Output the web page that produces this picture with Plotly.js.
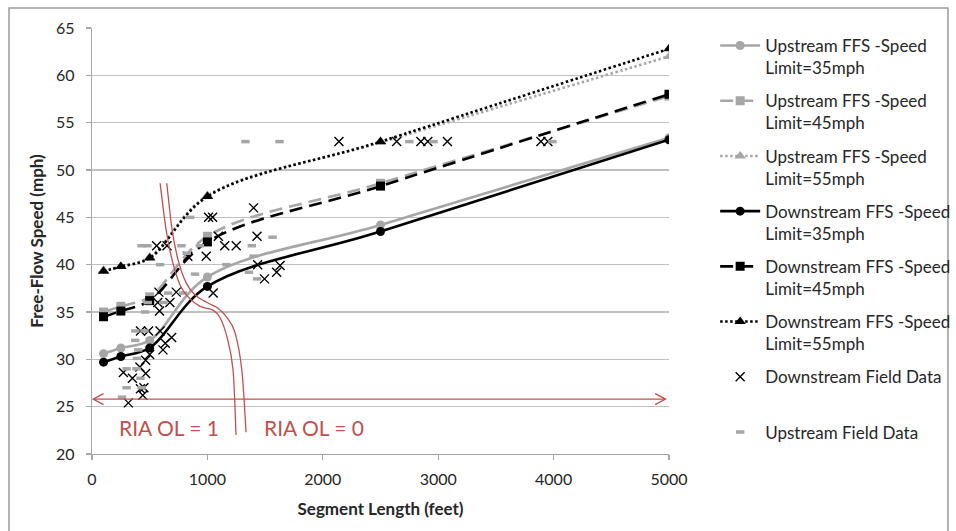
<!DOCTYPE html>
<html>
<head>
<meta charset="utf-8">
<script src="https://cdn.plot.ly/plotly-3.0.1.min.js"></script>
<style>
  html, body { margin: 0; padding: 0; background: #ffffff; }
  #chart { width: 956px; height: 531px; }
</style>
</head>
<body>
<div id="chart"></div>
<script>
// ---- Model curves (segment length in feet, FFS in mph) ----
const segLen = [100, 250, 500, 1000, 2500, 5000];
const usFFS35 = [30.6, 31.2, 32.0, 38.7, 44.2, 53.4];
const usFFS45 = [35.0, 35.6, 36.6, 43.0, 48.6, 57.8];
const usFFS55 = [39.4, 39.8, 40.8, 47.3, 52.9, 62.0];
const dsFFS35 = [29.7, 30.3, 31.2, 37.7, 43.5, 53.2];
const dsFFS45 = [34.5, 35.1, 36.2, 42.4, 48.3, 58.0];
const dsFFS55 = [39.3, 39.8, 40.7, 47.2, 53.0, 62.8];

// ---- Field data ----
const dsFieldLen = [2140, 2640, 2850, 2910, 3080, 3890, 3950,
  1400, 1010, 1045, 1095, 1430, 560, 650, 1150, 1250, 830, 990,
  1435, 1630, 1600, 1495, 1050, 580, 730, 570, 675, 585,
  590, 420, 490, 615, 635, 690,
  315, 272, 350, 415, 465, 465, 500, 440, 420, 450];
const dsFieldFFS = [53.0, 53.0, 53.0, 53.0, 53.0, 53.0, 53.0,
  46.0, 45.0, 45.0, 43.0, 43.0, 42.0, 42.0, 42.0, 42.0, 40.9, 40.9,
  40.0, 39.9, 39.2, 38.5, 37.0, 37.1, 37.1, 36.0, 36.0, 35.1,
  33.0, 33.0, 33.0, 31.0, 31.7, 32.3,
  25.4, 28.6, 28.0, 29.2, 28.5, 29.9, 30.5, 26.2, 26.9, 27.0];

const usFieldLen = [1330, 1625, 2750, 2960, 3990,
  850, 1565, 430, 480, 775, 935, 1385, 1400, 821,
  590, 1165, 893, 1360, 1430, 660, 790, 483, 620, 460,
  375, 455, 375, 390, 400, 300, 385, 420, 300, 430, 260];
const usFieldFFS = [53.0, 53.0, 53.0, 53.0, 53.0,
  45.0, 42.9, 42.0, 42.0, 42.0, 42.0, 42.0, 40.9, 41.2,
  40.0, 40.0, 39.0, 39.2, 38.5, 37.0, 37.0, 36.0, 36.0, 35.0,
  33.0, 33.0, 32.0, 30.1, 31.0, 29.0, 29.0, 28.0, 27.0, 27.0, 26.0];

const seriesNames = [
  'Upstream FFS -Speed<br>Limit=35mph',
  'Upstream FFS -Speed<br>Limit=45mph',
  'Upstream FFS -Speed<br>Limit=55mph',
  'Downstream FFS -Speed<br>Limit=35mph',
  'Downstream FFS -Speed<br>Limit=45mph',
  'Downstream FFS -Speed<br>Limit=55mph',
  'Downstream Field Data<br> ',
  'Upstream Field Data<br> '
];

const GRAY = '#a6a6a6';
const BLACK = '#000000';
const RED = '#C0504D';
const FONT = 'Lato, "Open Sans", sans-serif';

function model(y, name, color, dash, symbol, msize, lg) {
  return {
    x: segLen, y: y, name: name, type: 'scatter', mode: 'lines+markers',
    line: {color: color, width: 2.6, dash: dash, shape: 'spline', smoothing: 1},
    marker: {color: color, symbol: symbol, size: msize},
    legendgroup: lg, hoverinfo: 'skip'
  };
}

const traces = [
  model(usFFS35, seriesNames[0], GRAY, 'solid', 'circle', 9, 'g1'),
  model(usFFS45, seriesNames[1], GRAY, '13px,7px', 'square', 9, 'g2'),
  model(usFFS55, seriesNames[2], GRAY, '2.5px,2.5px', 'triangle-up', 10, 'g3'),
  model(dsFFS35, seriesNames[3], BLACK, 'solid', 'circle', 9, 'g4'),
  model(dsFFS45, seriesNames[4], BLACK, '13px,7px', 'square', 9, 'g5'),
  model(dsFFS55, seriesNames[5], BLACK, '2.5px,2.5px', 'triangle-up', 10, 'g6'),
  {
    x: dsFieldLen, y: dsFieldFFS, name: seriesNames[6], type: 'scatter', mode: 'markers',
    marker: {symbol: 'x-thin', size: 9, color: BLACK, line: {color: BLACK, width: 1.4}},
    legendgroup: 'g7', hoverinfo: 'skip'
  },
  {
    x: usFieldLen, y: usFieldFFS, name: seriesNames[7], type: 'scatter', mode: 'markers',
    marker: {symbol: 'line-ew', size: 6, color: GRAY, line: {color: GRAY, width: 3.5}},
    legendgroup: 'g8', hoverinfo: 'skip'
  }
];

// Red boundary annotation (two parallel curves), Catmull-Rom -> cubic bezier
const redLeft = [[590, 48.6], [642, 43.7], [694, 40.5], [763, 37.85], [832, 36.6], [936, 35.6],
  [1049, 35.2], [1110, 34.4], [1170, 32.35], [1222, 28.9], [1248, 22.0]];
const redRight = [[648, 48.6], [694, 43.7], [746, 40.5], [815, 38.1], [893, 36.8], [997, 36.0],
  [1092, 35.4], [1170, 34.4], [1240, 32.8], [1298, 28.9], [1335, 22.3]];

function crPath(p) {
  let d = 'M' + p[0][0] + ',' + p[0][1];
  for (let i = 0; i < p.length - 1; i++) {
    const p0 = p[Math.max(i - 1, 0)], p1 = p[i], p2 = p[i + 1], p3 = p[Math.min(i + 2, p.length - 1)];
    const c1 = [p1[0] + (p2[0] - p0[0]) / 6, p1[1] + (p2[1] - p0[1]) / 6];
    const c2 = [p2[0] - (p3[0] - p1[0]) / 6, p2[1] - (p3[1] - p1[1]) / 6];
    d += ' C' + c1[0] + ',' + c1[1] + ' ' + c2[0] + ',' + c2[1] + ' ' + p2[0] + ',' + p2[1];
  }
  return d;
}

const arrowY = 25.8;
const shapes = [
  {type: 'path', xref: 'x', yref: 'y', path: crPath(redLeft), line: {color: RED, width: 1.3}},
  {type: 'path', xref: 'x', yref: 'y', path: crPath(redRight), line: {color: RED, width: 1.3}},
  {type: 'line', xref: 'x', yref: 'y', x0: 10, x1: 4970, y0: arrowY, y1: arrowY, line: {color: RED, width: 1.3}},
  {type: 'path', xref: 'x', yref: 'y', path: 'M100,26.38 L10,' + arrowY + ' L100,25.22', line: {color: RED, width: 1.3}},
  {type: 'path', xref: 'x', yref: 'y', path: 'M4880,26.38 L4970,' + arrowY + ' L4880,25.22', line: {color: RED, width: 1.3}},
  // outer frame
  {type: 'rect', xref: 'paper', yref: 'paper', x0: -0.1438, x1: 1.4835, y0: -0.25, y1: 1.0469,
   line: {color: '#9a9a9a', width: 1.5}, layer: 'below'}
];

const annotations = [
  {x: 668, y: 22.75, xref: 'x', yref: 'y', text: 'RIA OL = 1', showarrow: false,
   font: {family: FONT, size: 21, color: RED}},
  {x: 1925, y: 22.75, xref: 'x', yref: 'y', text: 'RIA OL = 0', showarrow: false,
   font: {family: FONT, size: 21, color: RED}}
];

const layout = {
  width: 956, height: 531,
  margin: {l: 92, r: 287, t: 28, b: 77, pad: 0, autoexpand: false},
  paper_bgcolor: '#ffffff', plot_bgcolor: '#ffffff',
  font: {family: FONT, size: 16, color: '#262626'},
  showlegend: true,
  hovermode: false,
  xaxis: {
    range: [0, 5000], tickvals: [0, 1000, 2000, 3000, 4000, 5000],
    showgrid: false, zeroline: false, showline: true, linecolor: '#a6a6a6', linewidth: 1.3,
    ticks: 'outside', ticklen: 5, tickcolor: '#a6a6a6', tickwidth: 1.3,
    ticklabelstandoff: 5,
    tickfont: {family: FONT, size: 16, color: '#262626'},
    title: {text: 'Segment Length (feet)', font: {family: FONT, size: 17, color: '#262626', weight: 'bold'}, standoff: 16}
  },
  yaxis: {
    range: [20, 65], tickvals: [20, 25, 30, 35, 40, 45, 50, 55, 60, 65],
    showgrid: true, gridcolor: '#c0c0c0', gridwidth: 1.3, zeroline: false,
    showline: true, linecolor: '#a6a6a6', linewidth: 1.3,
    ticks: 'outside', ticklen: 5, tickcolor: '#a6a6a6', tickwidth: 1.3,
    ticklabelstandoff: 8,
    tickfont: {family: FONT, size: 16, color: '#262626'},
    title: {text: 'Free-Flow Speed (mph)', font: {family: FONT, size: 17, color: '#262626', weight: 'bold'}, standoff: 8}
  },
  legend: {
    x: 1.08, y: 1.0, xanchor: 'left', yanchor: 'top',
    font: {family: FONT, size: 17, color: '#262626'},
    bgcolor: 'rgba(0,0,0,0)', valign: 'top',
    tracegroupgap: 8, itemwidth: 40
  },
  shapes: shapes,
  annotations: annotations
};

Plotly.newPlot('chart', traces, layout, {staticPlot: true, displayModeBar: false});
</script>
</body>
</html>
